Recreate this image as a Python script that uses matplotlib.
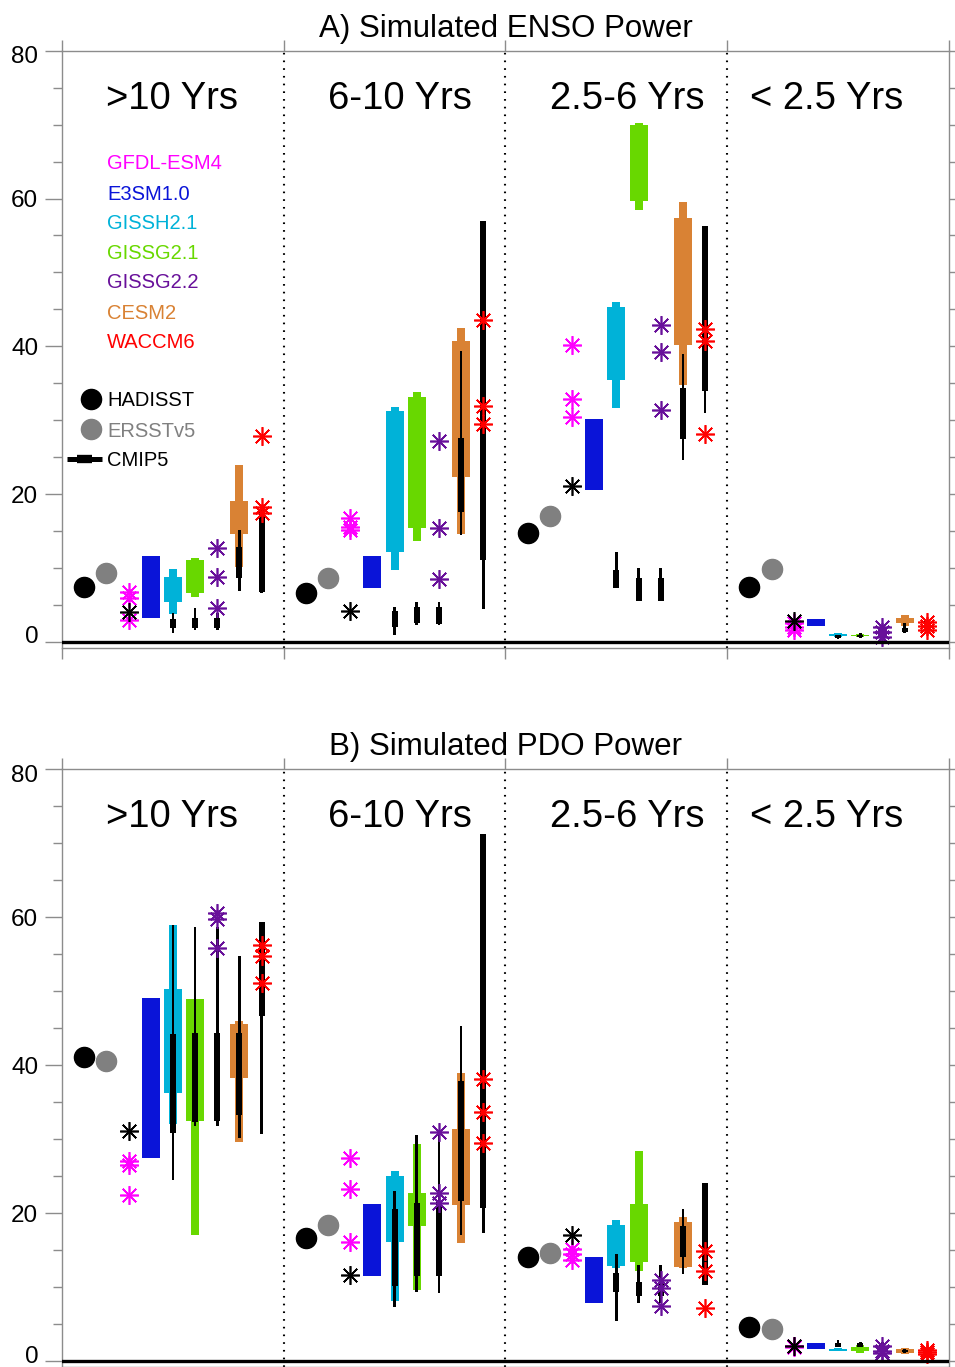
import matplotlib
matplotlib.use("Agg")
import matplotlib.pyplot as plt
from matplotlib.ticker import MultipleLocator
from matplotlib.transforms import ScaledTranslation

plt.rcParams['font.family'] = ['Liberation Sans', 'DejaVu Sans']

# ---------------------------------------------------------------- data
bands = [">10 Yrs", "6-10 Yrs", "2.5-6 Yrs", "< 2.5 Yrs"]
model_names = ["GFDL-ESM4", "E3SM1.0", "GISSH2.1", "GISSG2.1", "GISSG2.2", "CESM2", "WACCM6"]
model_colors = ["#ff00ff", "#0a14d8", "#00b2d8", "#68d800", "#68109a", "#d98234", "#ff0000"]
obs_names = ["HADISST", "ERSSTv5"]
obs_colors = ["#000000", "#808080"]
yticks = [0, 20, 40, 60, 80]

# ENSO power, one entry per period band
enso_hadisst = [7.4, 6.6, 14.7, 7.4]
enso_ersst = [9.3, 8.7, 17.0, 9.8]
enso_gfdl = [[6.8, 6.0, 3.0], [16.8, 15.6, 15.2], [40.2, 32.9, 30.4], [2.6, 2.0, 1.6]]
enso_cmip5_gfdl = [4.0, 4.2, 21.1, 2.8]
enso_e3sm = [[3.2, 11.6], [7.3, 11.6], [20.6, 30.2], [2.2, 3.1]]
# [lower whisker, lower box, upper box, upper whisker]
enso_gissh = [[3.8, 5.4, 8.8, 9.9], [9.7, 12.2, 31.3, 31.8], [31.7, 35.5, 45.3, 46.0], [0.7, 0.85, 1.1, 1.2]]
enso_gissg21 = [[6.1, 6.6, 11.1, 11.4], [13.7, 15.4, 33.2, 33.8], [58.5, 59.6, 69.9, 70.2], [0.6, 0.75, 0.95, 1.1]]
enso_cesm2 = [[10.1, 14.6, 19.1, 24.0], [14.6, 22.3, 40.7, 42.5], [34.8, 40.2, 57.3, 59.5], [2.2, 2.6, 3.3, 3.65]]
enso_gissg22 = [[12.7, 8.8, 4.6], [27.2, 15.4, 8.5], [42.9, 39.2, 31.4], [2.0, 1.4, 0.7]]
enso_waccm6 = [[27.8, 18.3, 17.4], [43.6, 31.9, 29.5], [42.3, 40.7, 28.2], [2.7, 2.2, 1.6]]
# CMIP5 counterparts: [min, q1, q3, max]
enso_cmip5_gissh = [[1.2, 1.9, 3.1, 3.9], [0.9, 2.0, 4.2, 4.7], [7.3, 7.3, 9.7, 12.2], [0.4, 0.5, 0.9, 1.0]]
enso_cmip5_gissg21 = [[1.6, 1.9, 3.2, 4.6], [2.3, 2.6, 4.7, 5.4], [5.5, 5.5, 8.7, 10.0], [0.5, 0.6, 1.0, 1.2]]
enso_cmip5_gissg22 = [[1.6, 1.9, 3.2, 3.9], [2.3, 2.4, 4.7, 5.4], [5.5, 5.5, 8.7, 10.0], [0.5, 0.6, 1.0, 1.2]]
enso_cmip5_cesm2 = [[6.9, 8.7, 12.9, 15.2], [14.5, 17.6, 27.6, 39.4], [24.6, 27.4, 34.3, 39.0], [1.2, 1.3, 1.9, 2.5]]
enso_cmip5_waccm6 = [[6.6, 6.8, 17.9, 18.2], [4.5, 11.1, 57.0, 57.0], [31.0, 34.0, 56.3, 56.3], [1.5, 2.0, 3.0, 3.0]]

# PDO power, one entry per period band
pdo_hadisst = [41.1, 16.6, 14.0, 4.6]
pdo_ersst = [40.6, 18.4, 14.6, 4.4]
pdo_gfdl = [[27.0, 26.5, 22.4], [27.5, 23.3, 16.1], [15.2, 14.5, 13.7], [2.1, 2.0, 1.9]]
pdo_cmip5_gfdl = [31.1, 11.6, 17.1, 2.0]
pdo_e3sm = [[27.5, 49.0], [11.5, 21.2], [7.9, 14.0], [1.6, 2.5]]
pdo_gissh = [[32.1, 36.2, 50.3, 58.9], [8.1, 16.1, 25.0, 25.7], [12.6, 12.8, 18.4, 19.1], [1.3, 1.35, 1.65, 1.7]]
pdo_gissg21 = [[17.0, 32.4, 48.9, 48.9], [9.6, 18.2, 22.7, 29.4], [12.2, 13.4, 21.2, 28.4], [1.1, 1.3, 1.9, 2.2]]
pdo_cesm2 = [[29.6, 38.3, 45.6, 45.9], [16.0, 21.1, 31.3, 38.9], [12.6, 12.7, 18.8, 19.5], [1.0, 1.1, 1.6, 1.7]]
pdo_gissg22 = [[60.5, 59.7, 55.8], [30.9, 22.7, 21.3], [11.0, 9.9, 7.5], [2.0, 1.3, 1.1]]
pdo_waccm6 = [[56.2, 54.8, 51.1], [38.1, 33.6, 29.5], [14.9, 12.2, 7.2], [1.5, 1.2, 1.0]]
pdo_cmip5_gissh = [[24.5, 30.8, 44.2, 58.9], [7.3, 10.1, 20.5, 23.0], [5.4, 9.4, 11.9, 14.5], [1.9, 1.9, 2.5, 2.8]]
pdo_cmip5_gissg21 = [[31.7, 32.3, 44.3, 58.7], [9.3, 11.5, 21.4, 30.5], [7.9, 8.8, 10.7, 13.0], [1.9, 1.9, 2.4, 2.6]]
pdo_cmip5_gissg22 = [[31.7, 32.5, 44.3, 58.7], [9.2, 11.5, 21.5, 30.8], [7.9, 8.8, 10.7, 13.0], [1.8, 1.9, 2.3, 2.6]]
pdo_cmip5_cesm2 = [[30.2, 33.2, 44.3, 54.7], [17.1, 21.6, 37.8, 45.3], [11.8, 14.0, 18.2, 20.6], [1.1, 1.2, 1.5, 1.6]]
pdo_cmip5_waccm6 = [[30.7, 46.6, 59.4, 59.4], [17.3, 20.7, 71.2, 71.2], [10.3, 10.3, 24.0, 24.0], [0.8, 0.8, 1.5, 1.5]]

# ---------------------------------------------------------------- style
GREY = "#8c8c8c"
W_WIDE, W_NARROW = 0.081, 0.036
W_THICK, W_THIN = 0.027, 0.012
ASTER = (8, 2, 0)
slot = {"HADISST": 1, "ERSSTv5": 2, "GFDL-ESM4": 3, "E3SM1.0": 4, "GISSH2.1": 5,
        "GISSG2.1": 6, "GISSG2.2": 7, "CESM2": 8, "WACCM6": 9}
color_of = dict(zip(model_names, model_colors))


def xpos(band, name):
    return band + 0.1 * slot[name]


def model_box(ax, x, stats, color):
    lo_n, lo_w, hi_w, hi_n = stats
    ax.bar(x, hi_n - lo_n, bottom=lo_n, width=W_NARROW, color=color, zorder=2)
    ax.bar(x, hi_w - lo_w, bottom=lo_w, width=W_WIDE, color=color, zorder=2)


def cmip5_box(ax, x, stats):
    vmin, q1, q3, vmax = stats
    ax.bar(x, vmax - vmin, bottom=vmin, width=W_THIN, color="black", zorder=3)
    ax.bar(x, q3 - q1, bottom=q1, width=W_THICK, color="black", zorder=3)


def asterisks(ax, x, values, color):
    ax.plot([x] * len(values), values, linestyle="none", marker=ASTER,
            markersize=13.5, markeredgewidth=1.2, color=color, zorder=4)


def draw_panel(ax, title, had, ersst, gfdl, cmip5_gfdl, e3sm, gissh, gissg21,
               gissg22, cesm2, waccm6, c_gissh, c_gissg21, c_gissg22, c_cesm2, c_waccm6):
    for b in range(len(bands)):
        ax.plot(xpos(b, "HADISST"), had[b], "o", ms=14.5, color=obs_colors[0], zorder=4)
        ax.plot(xpos(b, "ERSSTv5"), ersst[b], "o", ms=14.5, color=obs_colors[1], zorder=4)
        lo, hi = e3sm[b]
        ax.bar(xpos(b, "E3SM1.0"), hi - lo, bottom=lo, width=W_WIDE,
               color=color_of["E3SM1.0"], zorder=2)
        model_box(ax, xpos(b, "GISSH2.1"), gissh[b], color_of["GISSH2.1"])
        model_box(ax, xpos(b, "GISSG2.1"), gissg21[b], color_of["GISSG2.1"])
        model_box(ax, xpos(b, "CESM2"), cesm2[b], color_of["CESM2"])
        cmip5_box(ax, xpos(b, "GISSH2.1"), c_gissh[b])
        cmip5_box(ax, xpos(b, "GISSG2.1"), c_gissg21[b])
        cmip5_box(ax, xpos(b, "GISSG2.2"), c_gissg22[b])
        cmip5_box(ax, xpos(b, "CESM2"), c_cesm2[b])
        cmip5_box(ax, xpos(b, "WACCM6"), c_waccm6[b])
        asterisks(ax, xpos(b, "GFDL-ESM4"), gfdl[b], color_of["GFDL-ESM4"])
        asterisks(ax, xpos(b, "GFDL-ESM4"), [cmip5_gfdl[b]], "black")
        asterisks(ax, xpos(b, "GISSG2.2"), gissg22[b], color_of["GISSG2.2"])
        asterisks(ax, xpos(b, "WACCM6"), waccm6[b], color_of["WACCM6"])

    # band separators and labels
    for b in range(1, len(bands)):
        ax.axvline(b, color="black", lw=1.5, ls=(0, (0.8, 2.9)), zorder=1)
    label_x = [0.494, 1.524, 2.548, 3.448]
    for b, name in enumerate(bands):
        ax.text(label_x[b], 73.5, name, ha="center", va="center", fontsize=27.5)

    ax.axhline(0, color="black", lw=2.4, zorder=5)
    ax.set_xlim(0, 4)
    ax.set_ylim(-0.8, 80)
    ax.set_xticks(range(len(bands) + 1))
    ax.tick_params(axis="x", which="major", direction="out", length=8, top=True,
                   bottom=True, labelbottom=False, color=GREY, width=1)
    ax.set_yticks(yticks)
    ax.set_yticklabels([str(v) for v in yticks])
    ax.yaxis.set_minor_locator(MultipleLocator(5))
    ax.tick_params(axis="y", which="major", direction="out", length=12, right=True,
                   color=GREY, width=1, labelsize=17.5, pad=5, labelcolor="black")
    ax.tick_params(axis="y", which="minor", direction="out", length=6.5, right=True,
                   color=GREY, width=1)
    for sp in ax.spines.values():
        sp.set_color(GREY)
        sp.set_linewidth(1)
    ax.text(0.5, 1.037, title, transform=ax.transAxes, ha="center", va="center",
            fontsize=22.5)

    # keep the end labels inside the frame
    fig = ax.figure
    ticks = ax.yaxis.get_major_ticks()
    ticks[0].label1.set_transform(ticks[0].label1.get_transform()
                                  + ScaledTranslation(0, 0.07, fig.dpi_scale_trans))
    ticks[-1].label1.set_transform(ticks[-1].label1.get_transform()
                                   + ScaledTranslation(0, -0.04, fig.dpi_scale_trans))


fig = plt.figure(figsize=(9.55, 13.67), dpi=100)
ax_a = fig.add_axes([0.0649, 0.5261, 0.9288, 0.4368])
ax_b = fig.add_axes([0.0649, 0.0, 0.9288, 0.4374])

draw_panel(ax_a, "A) Simulated ENSO Power", enso_hadisst, enso_ersst, enso_gfdl,
           enso_cmip5_gfdl, enso_e3sm, enso_gissh, enso_gissg21, enso_gissg22,
           enso_cesm2, enso_waccm6, enso_cmip5_gissh, enso_cmip5_gissg21,
           enso_cmip5_gissg22, enso_cmip5_cesm2, enso_cmip5_waccm6)
draw_panel(ax_b, "B) Simulated PDO Power", pdo_hadisst, pdo_ersst, pdo_gfdl,
           pdo_cmip5_gfdl, pdo_e3sm, pdo_gissh, pdo_gissg21, pdo_gissg22,
           pdo_cesm2, pdo_waccm6, pdo_cmip5_gissh, pdo_cmip5_gissg21,
           pdo_cmip5_gissg22, pdo_cmip5_cesm2, pdo_cmip5_waccm6)

# legend drawn inside panel A
legend_y = [64.7, 60.6, 56.6, 52.6, 48.6, 44.5, 40.5]
for name, col, y in zip(model_names, model_colors, legend_y):
    ax_a.text(0.203, y, name, color=col, fontsize=14.5, va="center", ha="left")
obs_legend_y = [32.9, 28.8]
for name, col, y in zip(obs_names, obs_colors, obs_legend_y):
    ax_a.plot(0.131, y, "o", ms=14.5, color=col, zorder=4)
    ax_a.text(0.203, y - 0.3, name, color=col, fontsize=14.5, va="center", ha="left")
cmip5_legend_y = 24.8
ax_a.plot([0.023, 0.180], [cmip5_legend_y] * 2, color="black", lw=3.6, solid_capstyle="butt")
ax_a.plot([0.068, 0.135], [cmip5_legend_y] * 2, color="black", lw=6, solid_capstyle="butt")
ax_a.text(0.203, cmip5_legend_y - 0.3, "CMIP5", color="black", fontsize=14.5,
          va="center", ha="left")

fig.savefig("out.png", dpi=100)
